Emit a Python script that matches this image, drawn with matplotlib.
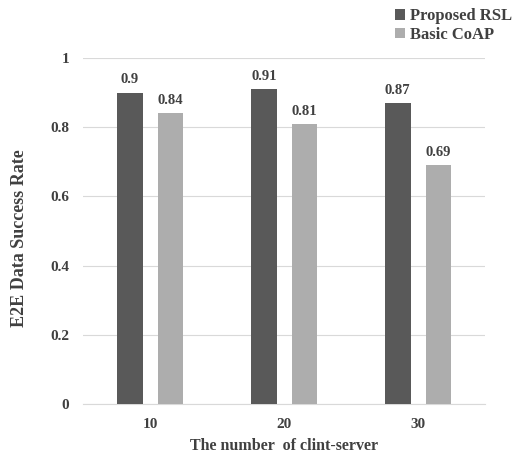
import matplotlib.pyplot as plt
import numpy as np

plt.rcParams['font.family'] = ['Liberation Serif', 'DejaVu Serif']

categories = ['10', '20', '30']
proposed_rsl = [0.9, 0.91, 0.87]
basic_coap = [0.84, 0.81, 0.69]

dark = '#595959'
light = '#adadad'
txt = '#404040'

fig = plt.figure(figsize=(5.2, 4.57), dpi=100)
ax = fig.add_axes([0.16, 0.116, 0.773, 0.757])

x = np.arange(len(categories))
w = 0.19
off = 0.152
b1 = ax.bar(x - off, proposed_rsl, w, color=dark, label='Proposed RSL', zorder=3)
b2 = ax.bar(x + off, basic_coap, w, color=light, label='Basic CoAP', zorder=3)

for bars, vals in ((b1, proposed_rsl), (b2, basic_coap)):
    for b, v in zip(bars, vals):
        ax.text(b.get_x() + b.get_width() / 2, v + 0.018, f'{v:g}', ha='center', va='bottom',
                fontsize=10.5, fontweight='bold', color=txt)

ax.set_xlim(-0.5, 2.5)
ax.set_ylim(0, 1)
ax.set_yticks([0, 0.2, 0.4, 0.6, 0.8, 1])
ax.set_yticklabels(['0', '0.2', '0.4', '0.6', '0.8', '1'])
ax.set_xticks(x)
ax.set_xticklabels(categories)
ax.grid(axis='y', color='#d9d9d9', linewidth=0.8, zorder=0)
for s in ['top', 'right', 'left']:
    ax.spines[s].set_visible(False)
ax.spines['bottom'].set_color('#d9d9d9')
ax.tick_params(length=0, labelsize=11, labelcolor=txt, pad=10)
for lbl in ax.get_xticklabels() + ax.get_yticklabels():
    lbl.set_fontweight('bold')

ax.set_xlabel('The number  of clint-server', fontsize=11.5, fontweight='bold', color=txt, labelpad=5)
ax.set_ylabel('E2E Data Success Rate', fontsize=13, fontweight='bold', color=txt)
ax.yaxis.set_label_coords(-0.138, 0.48)

fig.legend(loc='upper right', bbox_to_anchor=(1.0, 1.0), frameon=False,
           prop={'weight': 'bold', 'size': 12}, handlelength=0.6, handleheight=0.6,
           handletextpad=0.3, labelspacing=0.15, borderaxespad=0.1, labelcolor=txt)

fig.savefig('out.png', dpi=100)
